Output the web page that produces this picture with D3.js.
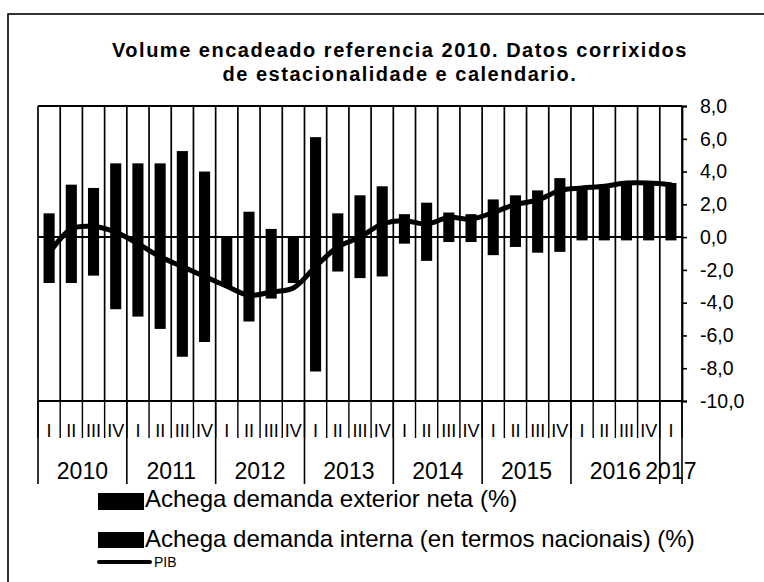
<!DOCTYPE html>
<html>
<head>
  <meta charset="utf-8">
  <title>PIB Galicia - achegas</title>
  <style>
    html, body { margin: 0; padding: 0; background: #fff; }
    svg { display: block; font-family: "Liberation Sans", Arial, sans-serif; }
  </style>
  <script src="https://d3js.org/d3.v7.min.js"></script>
</head>
<body>
<script>
  // trimestres 2010 T1 .. 2017 T1
  var quarterLabels = ["I","II","III","IV","I","II","III","IV","I","II","III","IV","I","II","III","IV",
                       "I","II","III","IV","I","II","III","IV","I","II","III","IV","I"];
  var yearLabels = ["2010","2011","2012","2013","2014","2015","2016","2017"];
  var yearQuarters = [4, 4, 4, 4, 4, 4, 4, 1];

  // achegas en puntos porcentuais
  var exterior = [1.45, 3.2, 3.0, 4.5, 4.5, 4.5, 5.25, 4.0, 0.0, 1.55, 0.5, 0.0, 6.1, 1.45, 2.55, 3.1,
                  -0.4, -1.45, -0.3, -0.3, -1.1, -0.6, -0.95, -0.9, -0.2, -0.2, -0.2, -0.2, -0.2];
  var interna = [-2.8, -2.8, -2.35, -4.4, -4.85, -5.6, -7.3, -6.4, -3.0, -5.15, -3.75, -2.8, -8.2, -2.1, -2.5, -2.4,
                 1.4, 2.1, 1.5, 1.4, 2.3, 2.55, 2.85, 3.6, 3.1, 3.2, 3.4, 3.4, 3.3];
  var pib = [-1.0, 0.5, 0.65, 0.3, -0.4, -1.2, -1.8, -2.4, -3.0, -3.55, -3.35, -3.1, -1.8, -0.6, 0.0, 0.8,
             1.0, 0.8, 1.2, 1.1, 1.5, 2.0, 2.25, 2.85, 3.0, 3.1, 3.3, 3.3, 3.2];
  var yTicks = [-10, -8, -6, -4, -2, 0, 2, 4, 6, 8];

  var width = 764, height = 582;
  var plotL = 38, plotR = 682, plotT = 106, plotB = 401;

  var svg = d3.select("body").append("svg")
    .attr("width", width)
    .attr("height", height);

  // marco exterior
  svg.append("rect")
    .attr("x", 8).attr("y", 14)
    .attr("width", 800).attr("height", 600)
    .attr("fill", "none").attr("stroke", "#000").attr("stroke-width", 1.6);

  // título
  var title = svg.append("text")
    .attr("text-anchor", "middle")
    .attr("font-weight", "bold").attr("font-size", 20)
    .attr("letter-spacing", 1.5);
  title.append("tspan").attr("x", 400).attr("y", 57).text("Volume encadeado referencia 2010. Datos corrixidos");
  title.append("tspan").attr("x", 400).attr("y", 81).text("de estacionalidade e calendario.");

  var idx = d3.range(quarterLabels.length);
  var x = d3.scaleBand().domain(idx).range([plotL, plotR]).padding(0);
  var y = d3.scaleLinear().domain([-10, 8]).range([plotB, plotT]);
  var bw = x.bandwidth();

  // grella vertical
  var bounds = d3.range(quarterLabels.length + 1).map(function (i) { return plotL + i * bw; });
  svg.append("g").selectAll("line")
    .data(bounds).enter().append("line")
    .attr("x1", function (d) { return d; }).attr("x2", function (d) { return d; })
    .attr("y1", plotT).attr("y2", plotB)
    .attr("stroke", "#000").attr("stroke-width", 1.7);

  // bordo superior
  svg.append("line")
    .attr("x1", plotL).attr("x2", plotR).attr("y1", plotT).attr("y2", plotT)
    .attr("stroke", "#000").attr("stroke-width", 1.8);

  // barras apiladas
  var rows = idx.map(function (i) { return { ext: exterior[i], int: interna[i] }; });
  var stacked = d3.stack().keys(["ext", "int"]).offset(d3.stackOffsetDiverging)(rows);
  svg.append("g").selectAll("g")
    .data(stacked).enter().append("g")
    .attr("fill", "#000")
    .selectAll("rect")
    .data(function (s) { return s; }).enter().append("rect")
    .attr("x", function (d, i) { return x(i) + bw * 0.25; })
    .attr("width", bw * 0.5)
    .attr("y", function (d) { return y(Math.max(d[0], d[1])); })
    .attr("height", function (d) { return Math.abs(y(d[0]) - y(d[1])); });

  // liña do cero
  svg.append("line")
    .attr("x1", plotL).attr("x2", plotR).attr("y1", y(0)).attr("y2", y(0))
    .attr("stroke", "#000").attr("stroke-width", 2);

  // PIB
  var line = d3.line()
    .x(function (d, i) { return x(i) + bw / 2; })
    .y(function (d) { return y(d); })
    .curve(d3.curveCatmullRom.alpha(0.5));
  svg.append("path")
    .attr("d", line(pib))
    .attr("fill", "none").attr("stroke", "#000").attr("stroke-width", 5)
    .attr("stroke-linejoin", "round").attr("stroke-linecap", "round");

  // eixo dereito
  var yAxis = svg.append("g")
    .attr("transform", "translate(" + plotR + ",0)")
    .call(d3.axisRight(y).tickValues(yTicks).tickSize(5).tickPadding(13)
      .tickFormat(function (d) { return d3.format(".1f")(d).replace(".", ",").replace("−", "-"); }));
  yAxis.select(".domain").attr("stroke-width", 1.8);
  yAxis.selectAll(".tick line").attr("stroke-width", 1.6);
  yAxis.selectAll("text").attr("font-size", 19.5).attr("fill", "#000")
    .attr("font-family", "Liberation Sans, Arial, sans-serif");

  // eixo inferior
  svg.append("line")
    .attr("x1", plotL).attr("x2", plotR).attr("y1", plotB).attr("y2", plotB)
    .attr("stroke", "#000").attr("stroke-width", 2);

  // marcas entre trimestres
  svg.append("g").selectAll("line")
    .data(bounds).enter().append("line")
    .attr("x1", function (d) { return d; }).attr("x2", function (d) { return d; })
    .attr("y1", plotB).attr("y2", 438)
    .attr("stroke", "#000").attr("stroke-width", 1.4);

  svg.append("g").selectAll("text")
    .data(quarterLabels).enter().append("text")
    .attr("x", function (d, i) { return x(i) + bw / 2; })
    .attr("y", 437)
    .attr("text-anchor", "middle").attr("font-size", 18)
    .text(function (d) { return d; });

  // anos
  var yearStart = [];
  var acc = 0;
  yearQuarters.forEach(function (n) { yearStart.push(acc); acc += n; });
  var yearBounds = yearStart.concat([acc]).map(function (i) { return plotL + i * bw; });
  svg.append("g").selectAll("line")
    .data(yearBounds).enter().append("line")
    .attr("x1", function (d) { return d; }).attr("x2", function (d) { return d; })
    .attr("y1", plotB).attr("y2", 484)
    .attr("stroke", "#000").attr("stroke-width", 1.6);

  svg.append("g").selectAll("text")
    .data(yearLabels).enter().append("text")
    .attr("x", function (d, i) { return plotL + (yearStart[i] + yearQuarters[i] / 2) * bw; })
    .attr("y", 479)
    .attr("text-anchor", "middle").attr("font-size", 23)
    .text(function (d) { return d; });

  // lenda
  var legend = svg.append("g");
  legend.append("rect").attr("x", 98).attr("y", 493).attr("width", 46).attr("height", 17).attr("fill", "#000");
  legend.append("text").attr("x", 145).attr("y", 507).attr("font-size", 24)
    .text("Achega demanda exterior neta (%)");
  legend.append("rect").attr("x", 98).attr("y", 532).attr("width", 46).attr("height", 16).attr("fill", "#000");
  legend.append("text").attr("x", 145).attr("y", 547).attr("font-size", 24)
    .text("Achega demanda interna (en termos nacionais) (%)");
  legend.append("line").attr("x1", 99).attr("x2", 150).attr("y1", 562).attr("y2", 562)
    .attr("stroke", "#000").attr("stroke-width", 4).attr("stroke-linecap", "round");
  legend.append("text").attr("x", 154).attr("y", 567).attr("font-size", 14)
    .text("PIB");
</script>
</body>
</html>
